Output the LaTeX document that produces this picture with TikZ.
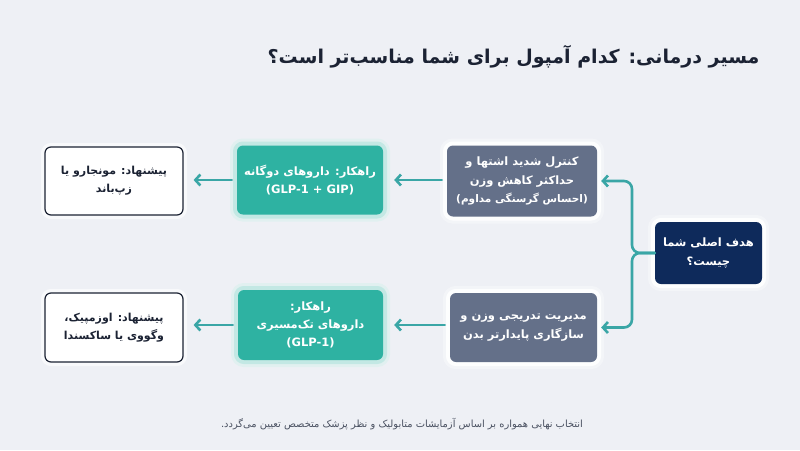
\documentclass[tikz,border=0pt]{standalone}
\usepackage{fontspec}
\setmainfont{DejaVu Sans}
\newfontfamily\fafont[Script=Arabic]{DejaVu Sans}
\TeXXeTstate=1
\usetikzlibrary{arrows.meta}
\newcommand\fa[1]{{\fafont\beginR #1\endR}}
\definecolor{bg}{HTML}{EEF0F5}
\definecolor{navy}{HTML}{0E2A5B}
\definecolor{slate}{HTML}{647089}
\definecolor{tealc}{HTML}{2EB2A2}
\definecolor{ink}{HTML}{1B2233}
\definecolor{connc}{HTML}{3AA6A6}
\definecolor{footc}{HTML}{4A5161}
\tikzset{
  basebox/.style={rounded corners=6pt, align=center, inner sep=4pt, font=\fontsize{11.5}{18}\selectfont},
  goalbox/.style={basebox, fill=navy, text=white, font=\bfseries\fontsize{11.5}{19}\selectfont,
     minimum width=107pt, minimum height=62pt,
     preaction={draw=white, line width=14pt, opacity=0.35},
     preaction={draw=white, line width=8pt, opacity=0.9}},
  graybox/.style={basebox, fill=slate, text=white, font=\bfseries\fontsize{11.5}{18.5}\selectfont,
     minimum width=150pt, minimum height=71pt,
     preaction={draw=white, line width=14pt, opacity=0.35},
     preaction={draw=white, line width=8pt, opacity=0.9}},
  tealbox/.style={basebox, fill=tealc, text=white, font=\bfseries\fontsize{11.5}{18}\selectfont,
     minimum width=146pt, minimum height=69pt,
     preaction={draw=tealc!20, line width=14pt, opacity=0.5},
     preaction={draw=tealc!30, line width=8pt, opacity=0.9}},
  whitebox/.style={basebox, fill=white, draw=ink, line width=1.2pt, text=ink,
     font=\bfseries\fontsize{11}{18}\selectfont,
     minimum width=138pt, minimum height=68pt,
     preaction={draw=white, line width=8pt, opacity=0.6}},
  conn/.style={draw=connc, line width=2.6pt, line cap=round,
     -{Straight Barb[length=5pt,width=11pt,line width=2.6pt]}},
  bracket/.style={conn, rounded corners=8pt},
}
\begin{document}
\begin{tikzpicture}[x=1pt,y=-1pt]
\fill[bg] (0,0) rectangle (800,450);
\useasboundingbox (0,0) rectangle (800,450);

\node[anchor=east, text=ink, font=\bfseries\fontsize{19}{22}\selectfont] (title) at (763,57)
  {\fa{مسیر درمانی: کدام آمپول برای شما مناسب‌تر است؟}};

\node[goalbox] (goal) at (708.5,253) {\fa{هدف اصلی شما}\\\fa{چیست؟}};

\node[graybox] (g1) at (522,181) {\fa{کنترل شدید اشتها و}\\\fa{حداکثر کاهش وزن}\\{\fontsize{10.5}{16}\selectfont\fa{(احساس گرسنگی مداوم)}}};
\node[graybox, minimum width=147pt, minimum height=69pt] (g2) at (523.5,327.5) {\fa{مدیریت تدریجی وزن و}\\\fa{سازگاری پایدارتر بدن}};

\node[tealbox] (t1) at (310,180) {\fa{راهکار: داروهای دوگانه}\\(GLP-1 + GIP)};
\node[tealbox, minimum width=145pt, minimum height=70pt] (t2) at (310.5,325) {\fa{راهکار:}\\\fa{داروهای تک‌مسیری}\\(GLP-1)};

\node[whitebox] (w1) at (114,181) {\fa{پیشنهاد: مونجارو یا}\\\fa{زپ‌باند}};
\node[whitebox, minimum height=69pt] (w2) at (114,327.5) {\fa{پیشنهاد: اوزمپیک،}\\\fa{وگووی یا ساکسندا}};

\node[text=footc, font=\fontsize{9.9}{12}\selectfont] (foot) at (402,424)
  {\fa{انتخاب نهایی همواره بر اساس آزمایشات متابولیک و نظر پزشک متخصص تعیین می‌گردد.}};

\coordinate (bmid) at (632,253);
\draw[bracket] (goal.west) -- (bmid) -- (bmid |- g1.east) -- ([xshift=4pt]g1.east);
\draw[bracket] (goal.west) -- (bmid) -- (bmid |- g2.east) -- ([xshift=4pt]g2.east);

\draw[conn] ([xshift=-5pt]g1.west |- t1.east) -- ([xshift=11pt]t1.east);
\draw[conn] ([xshift=-5pt]g2.west |- t2.east) -- ([xshift=11pt]t2.east);
\draw[conn] ([xshift=-5pt]t1.west) -- ([xshift=10pt]w1.east |- t1.west);
\draw[conn] ([xshift=-5pt]t2.west) -- ([xshift=10pt]w2.east |- t2.west);
\end{tikzpicture}
\end{document}
